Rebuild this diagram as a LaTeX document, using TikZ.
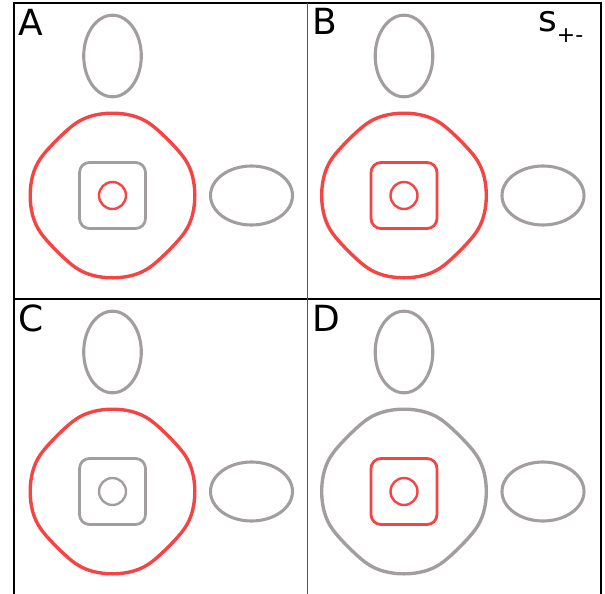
\documentclass[tikz,border=0pt]{standalone}
\usepackage{fontspec}
\newfontfamily\labfont{DejaVu Sans}
\definecolor{fsred}{HTML}{F44444}
\definecolor{fsgray}{HTML}{A39E9E}
\definecolor{midgray}{HTML}{555555}
\newcommand\fspanel[5]{%
  \begin{scope}[shift={(#1,#2)}]
    \draw[ellpocket] (0,-139.5) ellipse [x radius=28.8pt, y radius=40.8pt];
    \draw[ellpocket] (139,0) ellipse [x radius=41pt, y radius=29.5pt];
    \draw[outerpocket,draw=#3] plot[domain=0:360,samples=361,smooth] (\x:{82.3*(1+(82.3*cos(mod(\x,90)-45)/79.4)^30)^(-1/30)}) -- cycle;
    \draw[sqpocket,draw=#4] (-33,-33) rectangle (33,33);
    \draw[innerpocket,draw=#5] (0,0) circle [radius=13.5pt];
  \end{scope}}
\begin{document}
\begin{tikzpicture}[x=1pt,y=-1pt,
  outerpocket/.style={line width=3.4pt,line join=round},
  ellpocket/.style={draw=fsgray,line width=3.1pt},
  sqpocket/.style={line width=2.8pt,rounded corners=10pt},
  innerpocket/.style={line width=2.4pt},
  framerule/.style={line width=1.3pt},
  panellabel/.style={font=\labfont\fontsize{36}{36}\selectfont,anchor=base west,inner sep=0pt}]
\useasboundingbox (0,0) rectangle (605,594);
\fspanel{112.5}{195.5}{fsred}{fsgray}{fsred}
\fspanel{404}{195.5}{fsred}{fsred}{fsred}
\fspanel{112.5}{491.5}{fsred}{fsgray}{fsgray}
\fspanel{404}{491.5}{fsgray}{fsred}{fsred}
\draw[framerule] (14,594) -- (14,3) -- (601,3) -- (601,594);
\draw[framerule] (14,299) -- (601,299);
\draw[framerule,midgray,line width=1.6pt] (307.5,3) -- (307.5,594);
\node[panellabel] (la) at (18.2,35.5) {A};
\node[panellabel] (lb) at (312.5,35) {B};
\node[panellabel] (lc) at (18,331.8) {C};
\node[panellabel] (ld) at (312.5,331.5) {D};
\node[panellabel] (spm) at (538,31.7) {s\raisebox{-11pt}{\fontsize{22}{22}\selectfont +-}};
\end{tikzpicture}
\end{document}
